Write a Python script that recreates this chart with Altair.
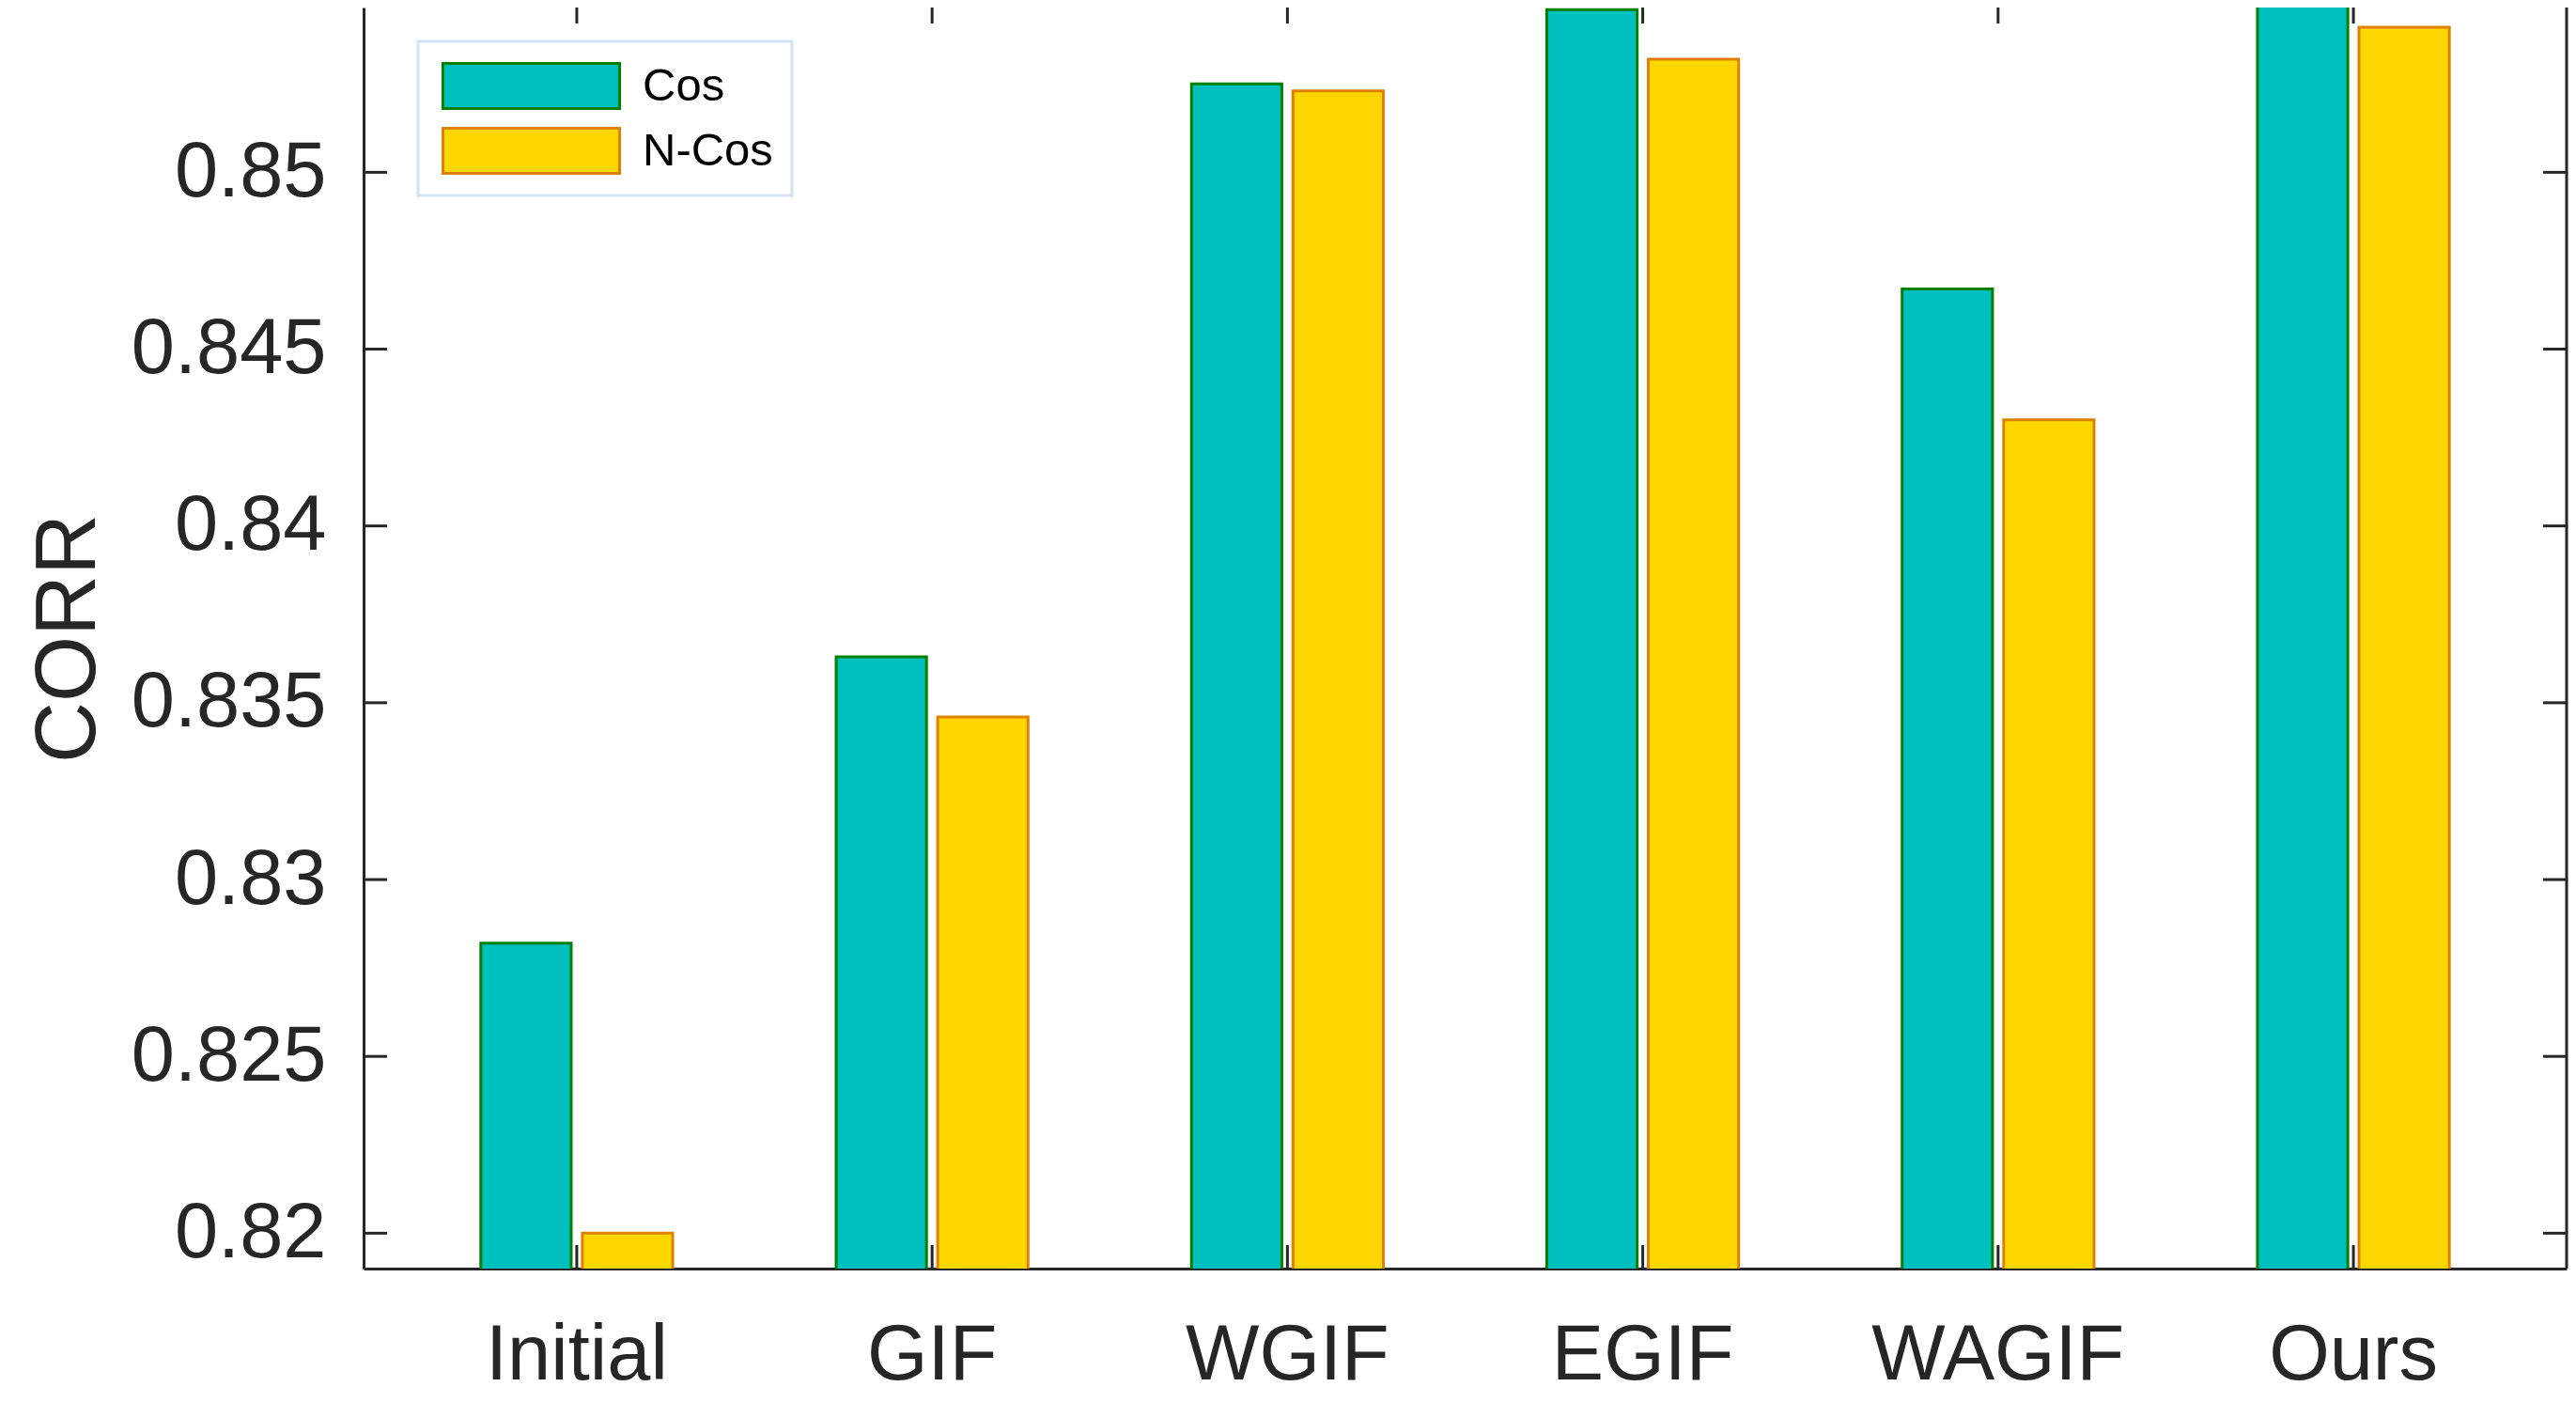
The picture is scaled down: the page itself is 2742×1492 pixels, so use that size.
import altair as alt
import pandas as pd

# ---- data ----
methods = ["Initial", "GIF", "WGIF", "EGIF", "WAGIF", "Ours"]
series_names = ["Cos", "N-Cos"]
cos_values = [0.8282, 0.8363, 0.8525, 0.8546, 0.8467, 0.8547]
ncos_values = [0.8200, 0.8346, 0.8523, 0.8532, 0.8430, 0.8541]
y_tick_values = [0.82, 0.825, 0.83, 0.835, 0.84, 0.845, 0.85]
y_domain = [0.819, 0.85466]

fill_colors = ["#00BFBF", "#FFD700"]
stroke_colors = ["#008000", "#E08000"]

rows = []
for i, m in enumerate(methods):
    rows.append({"method": m, "series": series_names[0], "value": cos_values[i]})
    rows.append({"method": m, "series": series_names[1], "value": ncos_values[i]})
bars_df = pd.DataFrame(rows)
ticks_df = pd.DataFrame({"tick": y_tick_values})
methods_df = pd.DataFrame({"method": methods})
edge_df = pd.DataFrame({"edge": ["right"]})

# ---- layout / style ----
W, H = 2345, 1342
TICK = 25
FONT = "Liberation Sans"
AXIS_COLOR = "#262626"

x_scale = alt.Scale(domain=methods, paddingInner=0.46, paddingOuter=0.33)
y_scale = alt.Scale(domain=y_domain, nice=False, zero=False)

x_axis = alt.Axis(
    title=None, domain=True, domainColor=AXIS_COLOR, domainWidth=3,
    ticks=False, tickSize=0, labelPadding=51, labelFontSize=83,
    labelFont=FONT, labelColor=AXIS_COLOR, labelAngle=0, labelLimit=1000,
    grid=False,
)
y_axis = alt.Axis(
    title="CORR", values=y_tick_values, format=".3~f", domain=True,
    domainColor=AXIS_COLOR, domainWidth=3, ticks=False, tickSize=0,
    labelPadding=40, labelFontSize=83, labelFont=FONT, labelColor=AXIS_COLOR,
    labelLimit=1000, grid=False, titleFont=FONT, titleFontSize=90,
    titleFontWeight="normal", titleColor=AXIS_COLOR, titlePadding=68,
)

legend = alt.Legend(
    title=None, orient="none", legendX=58, legendY=36, direction="vertical",
    symbolType="M-1,-0.2553L1,-0.2553L1,0.2553L-1,0.2553Z",
    symbolSize=188 * 188, symbolStrokeWidth=3, clipHeight=55, rowPadding=14,
    padding=20, symbolOffset=5, labelOffset=23, labelFont=FONT,
    labelFontSize=49, labelColor="black", strokeColor="#D3E2F7",
    fillColor="white",
)

bars = alt.Chart(bars_df).mark_bar(strokeWidth=3, clip=True).encode(
    x=alt.X("method:N", scale=x_scale, axis=x_axis, sort=methods),
    xOffset=alt.XOffset(
        "series:N",
        scale=alt.Scale(domain=series_names, paddingInner=0.11, paddingOuter=0),
        sort=series_names,
    ),
    y=alt.Y("value:Q", scale=y_scale, axis=y_axis),
    fill=alt.Fill("series:N", scale=alt.Scale(domain=series_names, range=fill_colors), legend=legend),
    stroke=alt.Stroke("series:N", scale=alt.Scale(domain=series_names, range=stroke_colors), legend=legend),
)

rule_style = dict(color=AXIS_COLOR, strokeWidth=3)

left_ticks = alt.Chart(ticks_df).mark_rule(**rule_style).encode(
    y=alt.Y("tick:Q", scale=y_scale, axis=y_axis),
    x=alt.value(0), x2=alt.value(TICK),
)
right_ticks = alt.Chart(ticks_df).mark_rule(**rule_style).encode(
    y=alt.Y("tick:Q", scale=y_scale, axis=y_axis),
    x=alt.value(W - TICK), x2=alt.value(W),
)
bottom_ticks = alt.Chart(methods_df).mark_rule(**rule_style).encode(
    x=alt.X("method:N", scale=x_scale, axis=x_axis, sort=methods, bandPosition=0.5),
    y=alt.value(H - TICK), y2=alt.value(H),
)
top_ticks = alt.Chart(methods_df).mark_rule(**rule_style).encode(
    x=alt.X("method:N", scale=x_scale, axis=x_axis, sort=methods, bandPosition=0.5),
    y=alt.value(0), y2=alt.value(17),
)
right_line = alt.Chart(edge_df).mark_rule(**rule_style).encode(
    x=alt.value(W), y=alt.value(0), y2=alt.value(H),
)

chart = alt.layer(
    bars, left_ticks, right_ticks, bottom_ticks, top_ticks, right_line
).properties(
    width=W, height=H,
    padding={"left": 379, "top": 0, "right": 2, "bottom": 134},
    autosize=alt.AutoSizeParams(type="none"),
).configure_view(stroke=None).configure_legend(strokeWidth=3)

chart.save("out.html", embed_options={"renderer": "svg", "actions": False})
